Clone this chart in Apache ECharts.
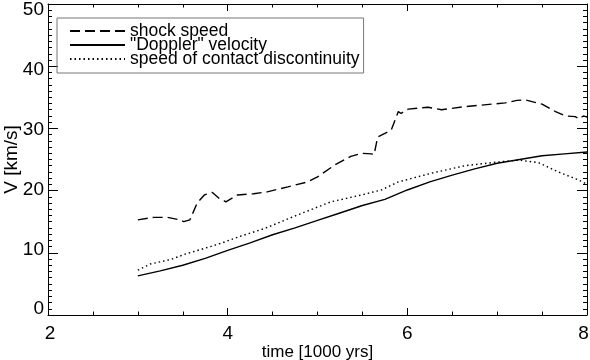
<!DOCTYPE html>
<html><head><meta charset="utf-8">
<script src="https://cdn.jsdelivr.net/npm/echarts@6/dist/echarts.min.js"></script>
<style>html,body{margin:0;padding:0;background:#fff}#c{width:590px;height:360px}</style>
</head><body><div id="c"></div>
<script>
// shock speed
const shockX = [3.00,3.18,3.33,3.47,3.51,3.58,3.66,3.74,3.83,3.90,3.98,4.11,4.29,4.44,4.67,4.89,5.00,5.19,5.37,5.49,5.60,5.63,5.67,5.82,5.90,5.93,6.01,6.23,6.38,6.64,6.94,7.09,7.22,7.31,7.50,7.65,7.76,7.87,7.91,7.96,8.00];
const shockY = [15.3,15.7,15.7,15.3,15.0,15.3,18.0,19.3,19.7,18.8,18.2,19.3,19.5,19.8,20.6,21.4,22.2,24.1,25.5,26.0,25.9,25.8,28.6,29.7,32.7,32.4,33.1,33.4,33.0,33.5,33.9,34.1,34.5,34.6,33.9,32.7,32.0,31.9,31.5,32.0,31.8];
// "Doppler" velocity
const dopX = [3.00,3.25,3.50,3.75,4.00,4.25,4.50,4.75,5.00,5.25,5.50,5.75,6.00,6.25,6.50,6.75,7.00,7.25,7.50,7.75,8.00];
const dopY = [6.3,7.1,8.0,9.1,10.4,11.6,12.9,14.0,15.2,16.4,17.6,18.6,20.1,21.4,22.5,23.5,24.4,25.0,25.6,25.9,26.2];
// speed of contact discontinuity
const cdX = [3.00,3.14,3.36,3.55,3.74,3.92,4.15,4.41,4.78,5.15,5.49,5.71,5.90,6.27,6.64,7.01,7.24,7.46,7.68,7.91,8.00];
const cdY = [7.2,8.2,8.9,9.9,10.7,11.5,12.7,13.9,16.1,18.2,19.3,20.1,21.4,22.8,24.0,24.6,24.9,24.5,23.0,21.7,21.0];
const xTicks = [2,4,6,8];
const yTicks = [0,10,20,30,40,50];
const names = ['shock speed','"Doppler" velocity','speed of contact discontinuity'];

const zip = (a,b) => a.map((v,i)=>[v,b[i]]);
const font = 'Liberation Sans';
// rich styles nudging tick labels slightly toward the middle (as in the reference)
const yRich = {}, xRich = {};
yTicks.forEach((v,i) => {
  const s = Math.round((v - 25) * 0.47); // total padding; shift = s/2
  yRich['y'+i] = {fontSize:19,fontFamily:font,color:'#000',padding: s>0 ? [s,0,0,0] : [0,0,-s,0]};
});
xTicks.forEach((v,i) => {
  const s = i===0 ? 4 : (i===xTicks.length-1 ? -7 : 0);
  xRich['x'+i] = {fontSize:19,fontFamily:font,color:'#000',padding: s>0 ? [0,0,0,s] : [0,-s,0,0]};
});
const ax = (pos, show, isX) => ({
  type:'value', position: pos,
  min: isX ? xTicks[0] : yTicks[0], max: isX ? xTicks[xTicks.length-1] : yTicks[yTicks.length-1],
  interval: isX ? 2 : 10,
  axisLine:{show:true,onZero:false,lineStyle:{color:'#000',width:1}},
  axisTick:{show:true,inside:true,length:isX?7:10,lineStyle:{color:'#000',width:1}},
  minorTick:{show:true,splitNumber:isX?4:10,length:isX?3.5:4,lineStyle:{color:'#000',width:1}},
  splitLine:{show:false},
  axisLabel:{show:show,color:'#000',fontSize:19,fontFamily:font,margin:isX?9:4,
    formatter: v => { const arr = isX ? xTicks : yTicks; const i = arr.indexOf(v); return i<0 ? String(v) : '{' + (isX?'x':'y') + i + '|' + v + '}'; },
    rich: isX ? xRich : yRich},
  name: show ? (isX ? 'time [1000 yrs]' : 'V [km/s]') : '',
  nameLocation:'middle', nameGap: isX ? 29 : 27, nameMoveOverlap:false,
  nameTextStyle:{color:'#000',fontSize:isX?17:19,fontFamily:font}
});
const chart = echarts.init(document.getElementById('c'), null, {renderer:'canvas'});
chart.setOption({
  animation:false,
  backgroundColor:'#fff',
  grid:{left:48,right:3,top:4,bottom:45,containLabel:false,outerBoundsMode:'none'},
  xAxis:[ax('bottom',true,true), ax('top',false,true)],
  yAxis:[ax('left',true,false), ax('right',false,false)],
  legend:{
    show:true, orient:'vertical', left:57, top:18, data:names,
    itemWidth:55, itemHeight:14, itemGap:-4,
    borderColor:'#777', borderWidth:1, padding:[4,4,5,12],
    itemStyle:{opacity:0},
    textStyle:{color:'#000',fontSize:17.5,fontFamily:font},
    selectedMode:false
  },
  series:[
    {name:names[0],type:'line',data:zip(shockX,shockY),symbol:'none',lineStyle:{color:'#000',width:1.4,type:[10,5]},itemStyle:{color:'#000'}},
    {name:names[1],type:'line',data:zip(dopX,dopY),symbol:'none',lineStyle:{color:'#000',width:1.4,type:'solid'},itemStyle:{color:'#000'}},
    {name:names[2],type:'line',data:zip(cdX,cdY),symbol:'none',lineStyle:{color:'#000',width:1.4,type:[1.5,3]},itemStyle:{color:'#000'}}
  ]
});
</script></body></html>
